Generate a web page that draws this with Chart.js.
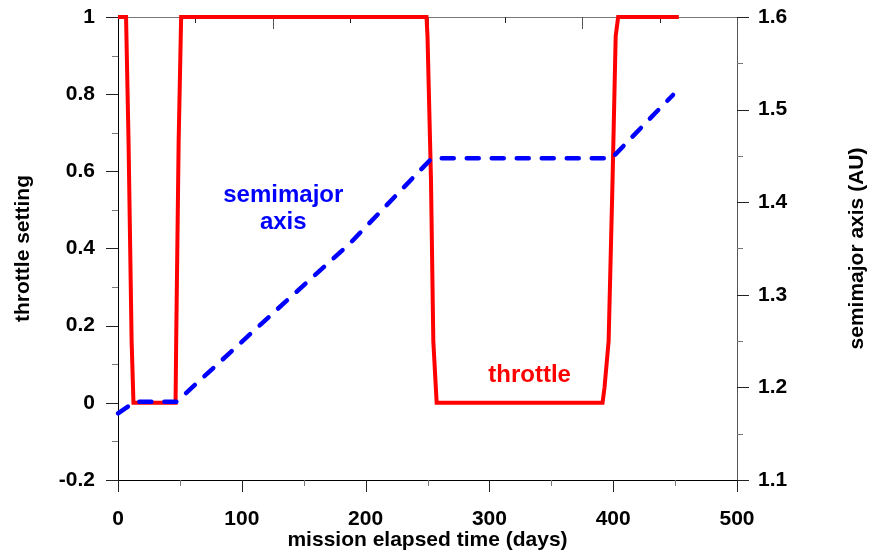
<!DOCTYPE html>
<html>
<head>
<meta charset="utf-8">
<script src="https://cdn.jsdelivr.net/npm/chart.js@4.4.0/dist/chart.umd.min.js"></script>
<style>
  body { margin: 0; background: #fff; }
  #wrap { width: 875px; height: 554px; position: relative; }
</style>
</head>
<body>
<div id="wrap"><canvas id="chart"></canvas></div>
<script>
// throttle setting vs mission elapsed time
const throttleDays = [0, 6.5, 8.5, 11, 12.5, 46.5, 47, 49, 51, 249.2, 250, 252.8, 254.7, 257.4, 391.4, 393, 396.3, 399.5, 402, 404, 453];
const throttleVals = [1, 1, 0.68, 0.16, 0, 0, 0.16, 0.68, 1, 1, 0.95, 0.58, 0.16, 0, 0, 0.04, 0.16, 0.58, 0.95, 1, 1];

// semimajor axis (AU)
const semiDays = [0, 13.7, 47.4, 128, 187.4, 253.4, 398.7, 433.8, 448.3];
const semiVals = [1.172, 1.1846, 1.1846, 1.2836, 1.3556, 1.4474, 1.4474, 1.496, 1.5158];

// axis ranges / ticks
const xTicks = [0, 500, 100, 50];        // min, max, major, minor
const yTicks = [-0.2, 1, 0.2, 0.1];
const y1Ticks = [1.1, 1.6, 0.1, 0.05];
const topTickStep = 62.5;

const FONT = "'Liberation Sans', Arial, Helvetica, sans-serif";

function pts(xs, ys) {
  return xs.map((x, i) => ({ x: x, y: ys[i] }));
}

function fmt(v) {
  return String(+v.toFixed(2) || 0);
}

// minor/major tick marks, top frame line, right title and in-plot labels
const decorations = {
  id: 'decorations',
  beforeDatasetsDraw(chart) {
    const ctx = chart.ctx;
    const { x, y, y1 } = chart.scales;
    const area = chart.chartArea;
    ctx.save();
    ctx.lineWidth = 1;

    // top frame line
    ctx.strokeStyle = '#777';
    ctx.beginPath();
    ctx.moveTo(area.left, area.top + 0.5);
    ctx.lineTo(area.right, area.top + 0.5);
    ctx.stroke();

    function tick(x1, y1_, x2, y2, col) {
      ctx.strokeStyle = col;
      ctx.beginPath();
      ctx.moveTo(x1, y1_);
      ctx.lineTo(x2, y2);
      ctx.stroke();
    }

    // bottom ticks
    for (let v = xTicks[0]; v <= xTicks[1] + 1e-9; v += xTicks[3]) {
      const px = Math.round(x.getPixelForValue(v)) + 0.5;
      const major = Math.abs(v / xTicks[2] - Math.round(v / xTicks[2])) < 1e-6;
      tick(px, area.bottom, px, area.bottom + (major ? 12 : 6), major ? '#222' : '#777');
    }
    // top ticks (inward)
    let k = 0;
    for (let v = xTicks[0] + topTickStep; v <= xTicks[1] + 1e-9; v += topTickStep) {
      k++;
      const px = Math.round(x.getPixelForValue(v)) + 0.5;
      tick(px, area.top, px, area.top + (k % 2 === 0 ? 12 : 6), k % 2 === 0 ? '#555' : '#222');
    }
    // left ticks
    for (let v = yTicks[0]; v <= yTicks[1] + 1e-9; v += yTicks[3]) {
      const py = Math.round(y.getPixelForValue(v)) + 0.5;
      const major = Math.abs(v / yTicks[2] - Math.round(v / yTicks[2])) < 1e-6;
      tick(area.left, py, area.left - (major ? 12 : 6), py, major ? '#222' : '#777');
    }
    // right ticks
    for (let v = y1Ticks[0]; v <= y1Ticks[1] + 1e-9; v += y1Ticks[3]) {
      const py = Math.round(y1.getPixelForValue(v)) + 0.5;
      const major = Math.abs(v / y1Ticks[2] - Math.round(v / y1Ticks[2])) < 1e-6;
      tick(area.right, py, area.right + (major ? 12 : 6), py, major ? '#222' : '#777');
    }
    ctx.restore();
  },
  afterDraw(chart) {
    const ctx = chart.ctx;
    const { x, y } = chart.scales;
    const area = chart.chartArea;
    ctx.save();
    // right axis title, reads bottom to top
    ctx.fillStyle = '#000';
    ctx.font = 'bold 21px ' + FONT;
    ctx.textAlign = 'center';
    ctx.textBaseline = 'middle';
    ctx.save();
    ctx.translate(857, (area.top + area.bottom) / 2);
    ctx.rotate(-Math.PI / 2);
    ctx.fillText('semimajor axis (AU)', 0, 0);
    ctx.restore();

    // in-plot labels
    ctx.font = 'bold 24px ' + FONT;
    ctx.fillStyle = '#0000ff';
    ctx.fillText('semimajor', x.getPixelForValue(133.5), y.getPixelForValue(0.538));
    ctx.fillText('axis', x.getPixelForValue(133.5), y.getPixelForValue(0.468));
    ctx.fillStyle = '#ff0000';
    ctx.fillText('throttle', x.getPixelForValue(332.5), y.getPixelForValue(0.07));
    ctx.restore();
  }
};

new Chart(document.getElementById('chart'), {
  type: 'line',
  data: {
    datasets: [
      {
        label: 'semimajor axis',
        data: pts(semiDays, semiVals),
        yAxisID: 'y1',
        borderColor: '#0000ff',
        borderWidth: 4.5,
        borderDash: [12, 13],
        borderCapStyle: 'round',
        pointRadius: 0,
        tension: 0,
        fill: false,
        clip: false,
        order: 0
      },
      {
        label: 'throttle',
        data: pts(throttleDays, throttleVals),
        yAxisID: 'y',
        borderColor: '#ff0000',
        borderWidth: 4,
        pointRadius: 0,
        tension: 0,
        fill: false,
        clip: false,
        order: 1
      }
    ]
  },
  options: {
    responsive: true,
    maintainAspectRatio: false,
    animation: false,
    layout: { padding: { top: 17, left: 0, right: 0, bottom: 0 } },
    plugins: { legend: { display: false }, tooltip: { enabled: false } },
    scales: {
      x: {
        type: 'linear',
        position: 'bottom',
        min: xTicks[0],
        max: xTicks[1],
        ticks: { stepSize: xTicks[2], color: '#000', padding: 27, font: { family: FONT, size: 21, weight: 'bold' } },
        grid: { drawOnChartArea: false, drawTicks: false },
        border: { display: true, color: '#000', width: 1 },
        title: { display: true, text: 'mission elapsed time (days)', color: '#000', padding: { top: 0, bottom: 1 }, font: { family: FONT, size: 21, weight: 'bold' } },
        afterFit: s => { s.height = 74; }
      },
      y: {
        type: 'linear',
        position: 'left',
        min: yTicks[0],
        max: yTicks[1],
        ticks: { stepSize: yTicks[2], color: '#000', padding: 0, font: { family: FONT, size: 21, weight: 'bold' }, callback: fmt },
        grid: { drawOnChartArea: false, drawTicks: true, tickLength: 23, tickColor: 'rgba(0,0,0,0)' },
        border: { display: true, color: '#000', width: 1 },
        title: { display: true, text: 'throttle setting', color: '#000', padding: { top: 11, bottom: 0 }, font: { family: FONT, size: 21, weight: 'bold' } },
        afterFit: s => { s.width = 118; }
      },
      y1: {
        type: 'linear',
        position: 'right',
        min: y1Ticks[0],
        max: y1Ticks[1],
        ticks: { stepSize: y1Ticks[2], color: '#000', padding: 0, font: { family: FONT, size: 21, weight: 'bold' }, callback: fmt },
        grid: { drawOnChartArea: false, drawTicks: true, tickLength: 21, tickColor: 'rgba(0,0,0,0)' },
        border: { display: true, color: '#555', width: 1 },
        afterFit: s => { s.width = 138; }
      }
    }
  },
  plugins: [decorations]
});
</script>
</body>
</html>
